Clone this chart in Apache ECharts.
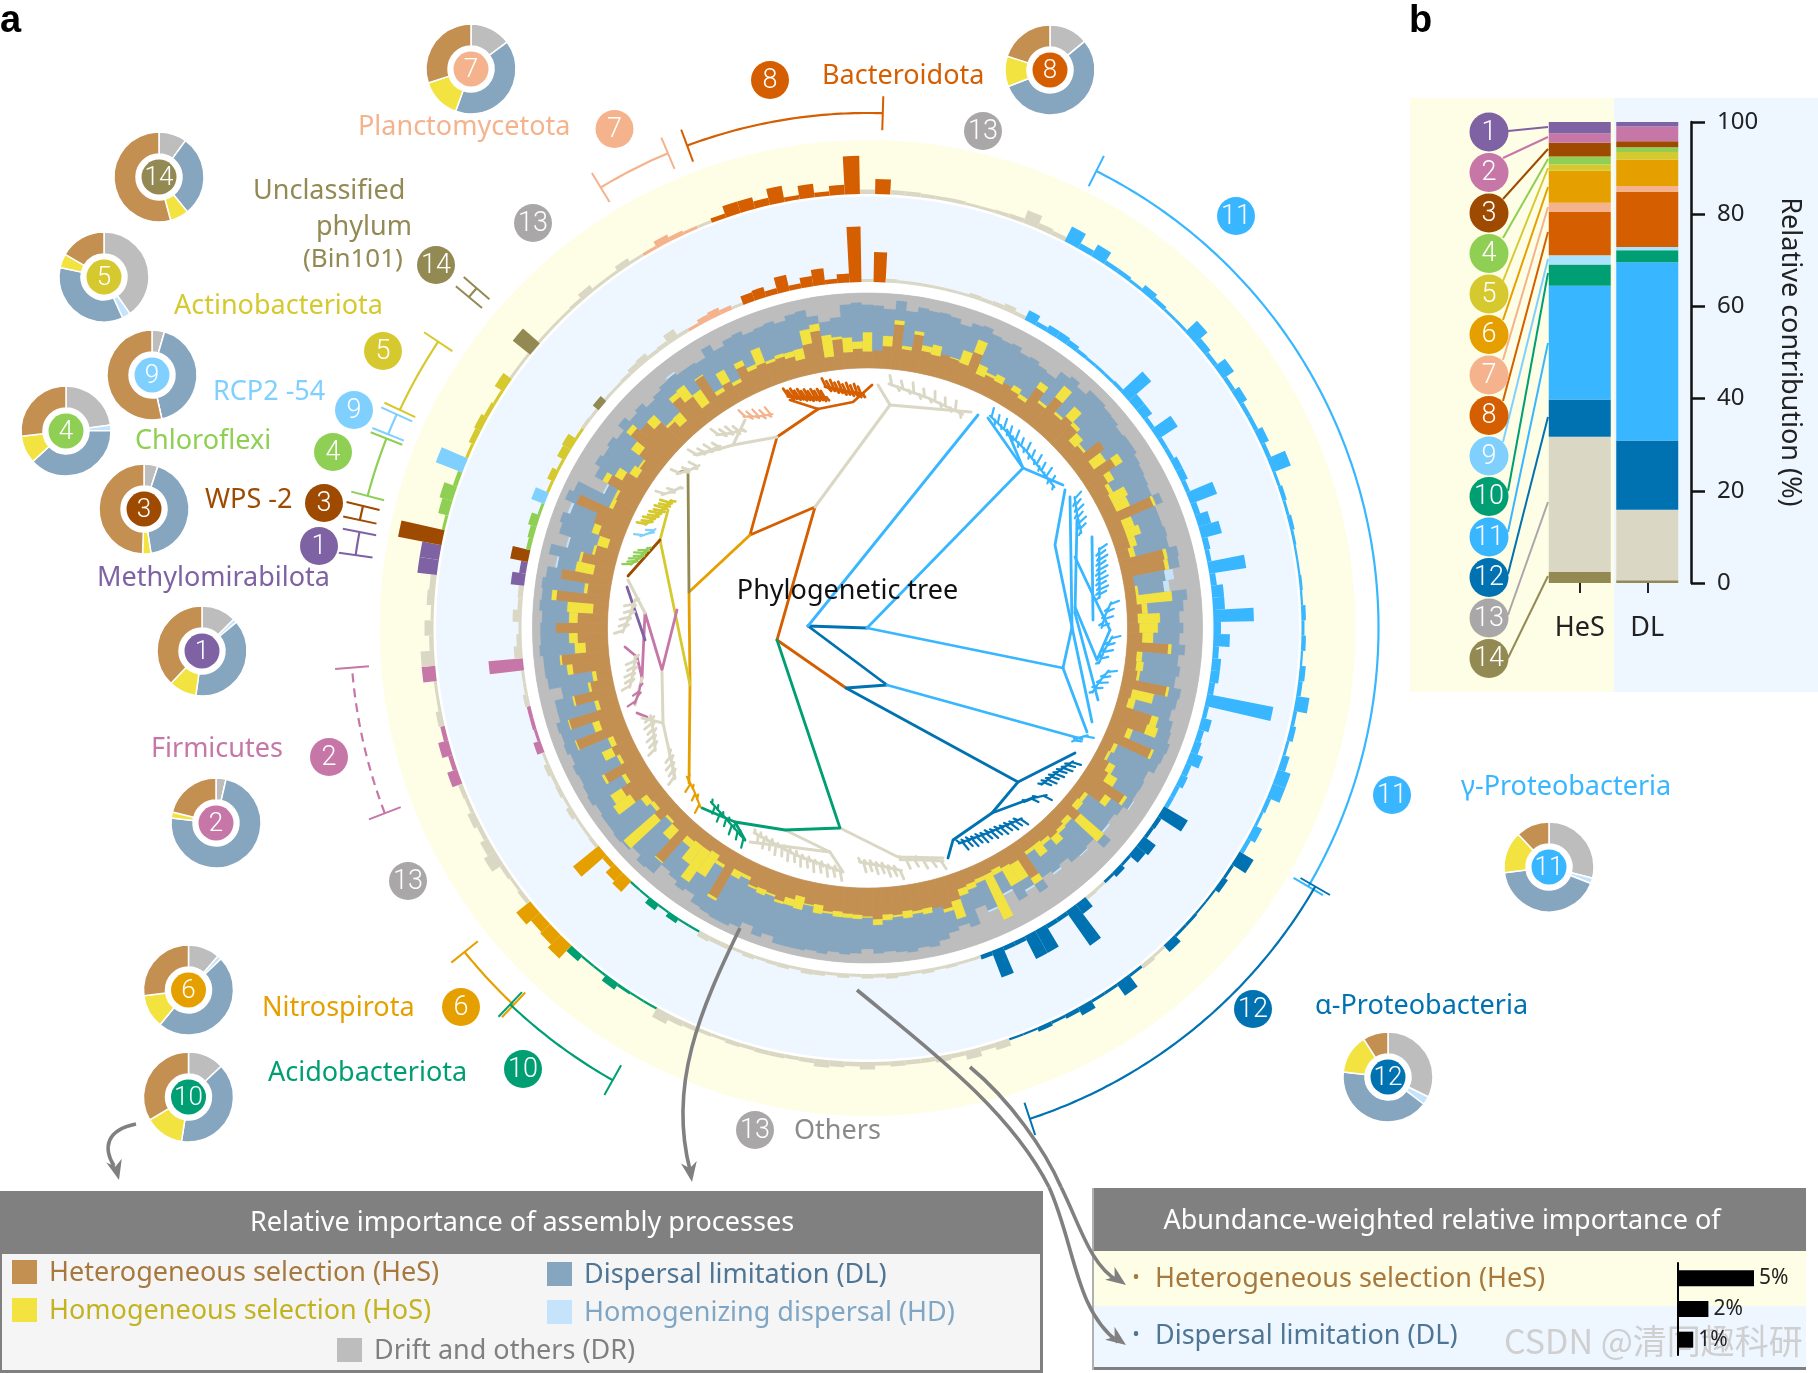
<!DOCTYPE html>
<html><head><meta charset="utf-8">
<style>html,body{margin:0;padding:0;background:#fff}#c{width:1818px;height:1373px}</style>
<script src="https://cdn.jsdelivr.net/npm/echarts@6/dist/echarts.min.js"></script>
</head><body><div id="c"></div>
<script>
// ===== DATA =====
const phylumColor={1:'#7E62A3',2:'#C676A7',3:'#9E4A00',4:'#8FCF54',5:'#D6C92F',6:'#E5A000',7:'#F4B38C',8:'#D55E00',9:'#7FD0FF',10:'#009E73',11:'#38B6FF',12:'#0072B2',13:'#DAD8C4',14:'#938953'};
const diskColor=Object.assign({},phylumColor,{13:'#A9A7A7'});
const procColor={he:'#C49052',ho:'#F2E340',dl:'#86A5BF',hd:'#C5E3FA',dr:'#BDBDBD'};
// leaf-wise relative importance (%), clockwise from 12 o'clock
const he=[22,24,30,60,28,50,30,28,32,30,28,48,22,26,24,28,24,20,45,30,
50,32,40,36,20,24,50,22,48,28,22,20,20,68,20,20,20,16,60,58,
14,14,14,20,14,16,20,55,14,15,18,60,16,14,50,48,25,65,16,14,
22,28,62,40,16,14,30,18,22,25,20,18,18,52,22,20,16,18,18,20,
22,35,42,38,35,36,34,38,36,42,38,36,35,33,35,28,30,22,28,35,
30,28,30,20,20,66,22,15,18,18,20,68,22,18,30,20,22,40,45,30,
55,24,30,22,70,32,70,25,55,30,20,50,63,30,40,69,40,20,70,30,
68,26,45,30,16,33,45,76,28,30,50,35,20,24,35,60,55,42,30,20,
50,40,20,55,22,30,22,40,30,33,30,32,28,22,40,55,18,40,22,26];
const ho=[26,0,14,6,5,5,8,14,0,2,18,18,14,4,10,0,8,6,10,4,
20,4,18,6,15,4,0,20,12,10,6,24,20,4,15,20,10,8,5,6,
0,4,48,8,30,25,15,5,8,10,4,4,30,10,10,16,8,4,6,4,
10,15,5,10,6,10,42,8,6,12,6,18,5,10,26,28,8,66,6,8,
10,25,5,0,8,4,10,3,8,8,2,6,6,8,3,12,2,18,10,4,
3,8,3,5,10,4,5,35,50,30,10,2,18,4,55,6,10,28,18,6,
4,5,15,8,2,10,2,6,3,4,6,8,3,15,12,0,12,35,7,5,
0,25,4,4,15,10,0,0,6,4,8,12,12,3,14,8,0,14,4,15,
8,20,22,2,6,18,5,8,6,22,4,5,8,15,20,10,30,4,20,10];
const dl=[37,60,36,26,47,32,47,44,52,46,38,20,44,48,46,46,44,46,15,48,
16,44,30,46,50,56,30,40,22,40,48,30,32,10,35,30,42,46,15,14,
42,34,20,48,26,34,35,18,48,49,48,16,32,50,20,18,53,15,60,56,
44,32,9,20,44,43,12,40,40,31,34,27,37,13,13,22,27,0,39,27,
44,10,28,44,45,46,46,47,42,38,42,46,49,47,54,50,60,52,54,45,
57,44,55,67,62,20,61,28,14,28,42,18,50,60,3,64,56,20,23,54,
29,57,43,54,16,44,16,51,24,36,60,30,22,47,38,21,36,37,13,57,
20,24,41,33,53,45,33,16,52,13,12,31,42,51,23,14,19,22,36,39,
20,19,34,19,46,38,49,34,48,23,46,45,42,47,26,11,18,26,44,52];
const hd=[0,0,0,0,0,0,0,0,0,0,0,0,0,0,0,0,0,0,0,0,
0,0,0,0,0,0,0,0,0,0,0,0,0,0,0,0,0,0,0,0,
12,8,0,0,0,0,0,0,0,0,0,0,0,0,0,0,0,0,0,0,
0,0,2,0,0,3,0,0,2,0,0,3,0,0,3,0,3,0,3,0,
0,0,0,0,0,0,0,0,0,0,0,0,0,0,0,0,0,0,0,0,
0,0,0,0,0,0,0,0,0,0,0,0,0,0,0,0,0,0,0,0,
0,0,0,0,0,0,0,0,0,0,0,0,0,0,0,0,0,0,0,0,
0,3,0,3,0,0,4,0,0,3,0,0,0,0,0,0,0,0,0,0,
0,3,0,0,0,0,0,0,0,0,0,0,0,0,0,0,0,0,0,0];
const dr=[15,16,20,8,20,13,15,14,16,22,16,14,20,22,20,26,24,28,30,18,
14,20,12,12,15,16,20,18,18,22,24,26,28,18,30,30,28,30,20,22,
32,40,18,24,30,25,30,22,30,26,30,20,22,26,20,18,14,16,18,26,
24,25,22,30,34,30,16,34,30,32,40,34,40,25,36,30,46,16,34,45,
24,30,25,18,12,14,10,12,14,12,18,12,10,12,8,10,8,8,8,16,
10,20,12,8,8,10,12,22,18,24,28,12,10,18,12,10,12,12,14,10,
12,14,12,16,12,14,12,18,18,30,14,12,12,8,10,10,12,8,10,8,
12,22,10,30,16,12,18,8,14,50,30,22,26,22,28,18,26,22,30,26,
22,18,24,24,26,14,24,18,16,22,20,18,22,16,14,24,34,30,14,12];
// abundance-weighted importance per leaf (%)
const dlAbund=[.2,2,.25,.2,.2,.2,.2,.2,.2,.3,.25,.3,.45,.25,.7,.3,.5,.5,.4,.25,
.2,.2,.2,.25,2,.7,.7,.3,1.6,.3,.3,.5,.5,.3,1.9,.4,.9,1.4,.4,.3,
2.5,.4,.8,.8,2.7,.5,1.1,.4,.6,.6,.4,4.5,.3,.7,.4,.5,.9,.4,.5,.3,
.3,1.85,.3,.25,1,.8,.2,.4,.2,.2,.25,.8,2.8,.3,.3,1.7,1.7,.3,.3,1.9,
.3,.2,.2,.25,.2,.3,.2,.25,.35,.25,.3,.2,.3,.2,.3,.35,.2,.3,.25,.2,
.3,.2,.3,.3,.4,.15,.15,.4,.15,.5,.15,.15,1,.8,.35,2.2,.25,.2,.2,.4,
.2,.3,.25,.4,.2,.5,.2,.25,.25,.35,.2,.2,2.3,.55,.35,.2,.6,.3,.35,.9,
.45,1.2,.3,.4,.6,.2,.95,.2,.5,.2,.6,.7,.2,.25,.2,.5,.2,.2,.25,.4,
.5,.25,.3,.7,.25,.2,.4,.5,.3,.2,.6,.7,.4,1.1,.35,.7,1.1,.3,.6,3.7];
const hesAbund=[.3,1,.3,.3,.25,.25,.25,.2,.2,.25,.3,.9,.4,.3,1.1,.4,.9,.3,.3,.2,
.5,.3,.2,.2,1.1,.5,.3,.9,.3,.6,.3,.3,.6,.3,1.3,.2,.3,.2,.3,.2,
.15,.15,.2,.15,.3,.2,.3,.15,.4,.3,.9,.25,.4,.2,.5,.9,.9,.3,.2,.6,
.3,1.1,.2,.4,.15,.15,.2,.2,.6,.2,.3,.2,1,.2,.2,.6,.3,.2,.3,.15,
.15,.5,.3,.6,.3,.4,.3,.3,.35,.25,.5,.3,.4,.5,.3,.25,.3,.3,.25,.3,
.2,.25,.3,.4,.7,.15,.15,.2,.5,.15,.15,.5,1.2,.9,.8,1.2,.3,.2,.3,.9,
.6,.3,.5,.25,.3,.7,.3,.7,.3,.4,.2,.2,.9,.9,.3,.6,.2,.5,.4,1.3,
1.3,2.95,.2,.7,.9,.3,1.9,.2,.4,.5,.3,.2,.7,.2,.2,1.5,.2,.2,.2,.25,
.5,.2,.2,.45,.2,.2,.5,.3,.2,.2,.3,.8,.8,.5,1.1,.3,.9,.3,.65,2.55];
// phylum runs along the ring: [phylum, first leaf, last leaf]
const phylumRuns=[[8,170,179],[8,1,1],[11,14,60],[12,61,68],[12,71,80],[10,105,111],[6,112,115],[2,125,128],[2,132,132],[1,139,140],[3,141,141],[4,142,145],[9,146,146],[5,147,152],[14,155,155],[7,165,168]];
// panel b, bottom→top order is reversed at plotting time
const phylumIds=[1,2,3,4,5,6,7,8,9,10,11,12,13,14];
const barHeS=[2.5,2,3,1.7,1.4,6.9,2,9.4,2,4.6,24.7,8.1,29.3,2.4];
const barDL=[1,3.2,1.3,1,1.7,5.7,1.3,11.9,.7,2.6,38.7,15,15.3,.6];
const barCats=['HeS','DL'];
// per-phylum donuts: dr, hd, dl, ho, he (clockwise from top)
const donutIds=[7,8,14,5,9,4,3,1,2,6,10,11,12];
const donutDR=[14.8,14,10,40,4.5,23,5,12.5,3.6,11.4,13,29,32];
const donutHD=[0,0,0,3,0,2,0,1.4,0,1.4,0,2,3];
const donutDL=[40.7,55,29,35,42,38.5,42.5,38.3,73,48,39.5,42,41];
const donutHO=[14.4,11,6.7,5,0,10,3,10,2.2,12,14,15,14];
const donutHE=[30,20,54,16.5,53.5,27,49.5,37.8,21,27,33.5,12,9];
const miniCats=['a','b','c'];const miniVals=[5,2,1];
// brackets: [phylum, startAngle, endAngle, radius, dashed]
const brackets=[[8,339.5,361.7,515,0],[7,328.8,337.2,515,0],[11,26.6,120.4,511,0],[12,120,161.7,517,0],[6,223.2,231.2,517,0],[10,209.4,223.5,519,0],[2,249,265.6,517,1],[1,278.1,280.7,517,0],[3,282,283.6,519,0],[4,284.8,291.5,517,0],[9,292,294.4,517,0],[5,295,303.7,516,0],[14,309.7,311,518,0]];
// tree branches (unrooted layout units)
const treeBranches=[
[8,[[777,640],[815,507],[750,535],[777,437],[818,409]]],[8,[[777,640],[846,688]]],[8,[[818,409],[853,402],[872,385]]],[8,[[818,409],[790,400]]],
[6,[[750,535],[689,592],[690,685],[689,783]]],[14,[[689,592],[688,470],[680,472]]],[5,[[690,685],[660,540],[668,510]]],[3,[[660,540],[628,576]]],
[2,[[677,610],[662,670],[645,613],[642,678]]],[2,[[625,647],[637,657],[642,678]]],[2,[[637,713],[647,717]]],[1,[[627,587],[645,640]]],
[13,[[815,507],[890,405]]],[13,[[777,437],[733,445],[697,455]]],[13,[[733,445],[745,420]]],[13,[[628,580],[645,613]]],[13,[[662,672],[663,723],[675,778]]],[13,[[663,723],[642,718]]],[13,[[642,678],[635,705]]],
[13,[[840,828],[898,857],[943,858]]],[13,[[785,830],[830,852],[843,872]]],[13,[[830,852],[750,842]]],[13,[[890,405],[971,412]]],[13,[[890,405],[878,385]]],
[10,[[777,640],[840,828],[785,830],[735,822],[702,808]]],[10,[[735,822],[745,840]]],
[12,[[808,626],[867,628]]],[12,[[808,626],[887,685],[846,688],[1018,782],[1075,753]]],[12,[[1018,782],[992,813],[953,840],[948,858]]],[12,[[992,813],[1035,797]]],
[11,[[808,626],[978,415]]],[11,[[867,628],[1023,468]]],[11,[[867,628],[1063,668]]],[11,[[887,685],[1082,739]]],
[11,[[1063,668],[1087,732]]],[11,[[1063,668],[1072,627],[1055,545],[1065,490]]],[11,[[1072,627],[1070,497]]],[11,[[1072,627],[1092,722]]],[11,[[1075,613],[1098,700]]],[11,[[1075,607],[1097,660],[1110,630]]],[11,[[1075,557],[1092,593],[1110,630]]],[11,[[1077,520],[1075,613]]],[11,[[1092,537],[1093,620]]],[11,[[1023,468],[988,418]]],[11,[[1023,468],[1063,485]]],[11,[[1023,468],[1007,430]]]
];
// terminal clades: [phylum, startAngle, endAngle, tips]
const treeClades=[[8,341,350,24],[8,350,359,20],[13,5,24,14],[7,329.6,336,9],[13,322,328,8],[13,315,321,7],[13,309,314,5],[13,303,307,4],[5,295,303,18],[9,292,295,3],[4,285,290,12],[13,269,277,10],[13,256,263,10],[2,252,256,4],[13,240,248,11],[13,232,238,8],[6,223,230.5,6],[10,210,222,12],[13,186,209,28],[13,172,182,14],[13,162,172,10],[12,141,157,26],[12,123,132,16],[12,133,138,4],[11,116,119,3],[11,100,106,8],[11,92,98.7,8],[11,71,82.6,20],[11,57.7,66,12],[11,30,53,24],[11,84,90,7]];

// ===== LAYOUT =====
const CX=867.5,CY=628,F='"Noto Sans"',D='Roboto',FS=27;
const leafCats=he.map((_,i)=>i);
const leafPhylum=he.map(()=>13);
phylumRuns.forEach(r=>{for(let i=r[1];i<=r[2];i++)leafPhylum[i]=r[0];});
const series=[];
// polars
const polar=[{center:[CX,CY],radius:[260,335]},{center:[CX,CY],radius:[346,431]},{center:[CX,CY],radius:[434,488]},{center:[CX,CY],radius:[0,600]}];
const mkAngle=(i)=>({polarIndex:i,type:'category',data:leafCats,startAngle:91,clockwise:true,show:false});
const angleAxis=[mkAngle(0),mkAngle(1),mkAngle(2),{polarIndex:3,type:'value',min:0,max:360,startAngle:90,clockwise:true,show:false}];
const radiusAxis=[{polarIndex:0,min:0,max:100,show:false},{polarIndex:1,min:0,max:5.67,show:false},{polarIndex:2,min:0,max:3.6,show:false},{polarIndex:3,min:0,max:600,show:false}];
[['HeS',he,'he',1],['HoS',ho,'ho',0],['DL',dl,'dl',1],['HD',hd,'hd',0],['DR',dr,'dr',1]].forEach(s=>{
  const c=procColor[s[2]];
  series.push({type:'bar',name:s[0],coordinateSystem:'polar',polarIndex:0,stack:'ring',data:s[1],barCategoryGap:'0%',itemStyle:s[3]?{color:c,borderColor:c,borderWidth:.6}:{color:c},silent:true,z:3});
});
series.push({type:'bar',name:'DL abundance',coordinateSystem:'polar',polarIndex:1,barCategoryGap:'0%',silent:true,z:3,data:dlAbund.map((v,i)=>({value:v,itemStyle:{color:phylumColor[leafPhylum[i]]}}))});
series.push({type:'bar',name:'HeS abundance',coordinateSystem:'polar',polarIndex:2,barCategoryGap:'0%',silent:true,z:3,data:hesAbund.map((v,i)=>({value:v,itemStyle:{color:phylumColor[leafPhylum[i]]}}))});
// brackets
series.push({type:'custom',coordinateSystem:'polar',polarIndex:3,clip:false,silent:true,z:4,data:brackets,
 renderItem(params,api){
  const ph=api.value(0),a0=api.value(1),a1=api.value(2),r=api.value(3),dash=api.value(4);
  const col=phylumColor[ph];const pts=[];
  for(let a=a0;a<a1;a+=0.5)pts.push(api.coord([r,a]));pts.push(api.coord([r,a1]));
  const st={stroke:col,lineWidth:2.2,fill:null};
  const tick=a=>{const p=api.coord([r-17,a]),q=api.coord([r+17,a]);return{type:'line',shape:{x1:p[0],y1:p[1],x2:q[0],y2:q[1]},style:{stroke:col,lineWidth:2}};};
  return{type:'group',children:[{type:'polyline',shape:{points:pts},style:dash?Object.assign({lineDash:[9,6]},st):st},tick(a0),tick(a1)]};
 }});
// donuts
function donutCenter(id){return({7:[471,69],8:[1050,70],14:[159,177],5:[104,277],9:[152,375],4:[66,431],3:[144,509],1:[202,651],2:[216,823],6:[188.5,990],10:[188.5,1097],11:[1549,867],12:[1388,1077]})[id];}
donutIds.forEach((id,k)=>{
 series.push({type:'pie',name:'donut'+id,center:donutCenter(id),radius:[23,45],startAngle:90,clockwise:true,silent:true,label:{show:false},labelLine:{show:false},
  itemStyle:{borderColor:'#fff',borderWidth:1.5},z:3,
  data:[{name:'DR',value:donutDR[k],itemStyle:{color:procColor.dr}},{name:'HD',value:donutHD[k],itemStyle:{color:procColor.hd}},{name:'DL',value:donutDL[k],itemStyle:{color:procColor.dl}},{name:'HoS',value:donutHO[k],itemStyle:{color:procColor.ho}},{name:'HeS',value:donutHE[k],itemStyle:{color:procColor.he}}]});
});
// tree
const pol=(a,r)=>{const t=a*Math.PI/180;return[CX+r*Math.sin(t),CY-r*Math.cos(t)];};
const treeStyle=ph=>({color:phylumColor[ph],width:ph===13?3:2.8,opacity:1,curveness:0,cap:'round',join:'round'});
const treeData=treeBranches.map(b=>({coords:b[1],lineStyle:treeStyle(b[0])}));
const tipLen=[9,5,7,4];
treeClades.forEach(c=>{
 const[ph,a0,a1,n]=c;const st=Object.assign(treeStyle(ph),{width:ph===8||ph===5||ph===13?2.8:2.2});
 treeData.push({coords:[pol(a0,245),pol((a0+a1)/2,238),pol(a1,234)],lineStyle:st});
 for(let k=0;k<n;k++){const u=(k+.5)/n,a=a0+(a1-a0)*u,rs=u<.5?245-14*u:238-8*(u-.5);
  const up=k%2===0,len=tipLen[k%4];
  treeData.push({coords:[pol(a,rs),pol(a+(up?-.6:.6),rs+(up?len:-len*.8))],lineStyle:st});}
});
series.push({type:'lines',coordinateSystem:'cartesian2d',xAxisIndex:0,yAxisIndex:0,polyline:true,silent:true,z:4,data:treeData});
// panel b
phylumIds.slice().reverse().forEach(ph=>{const k=ph-1;
 series.push({type:'bar',name:'p'+ph,xAxisIndex:1,yAxisIndex:1,stack:'b',barWidth:62,silent:true,z:3,itemStyle:{color:ph===9?'#A9E3FF':phylumColor[ph]},data:[barHeS[k],barDL[k]]});
});
// panel b leaders
const leaderL=[[1508,131],[1503,158],[1503,199],[1503,238],[1503,281],[1503,320],[1503,360],[1503,401],[1503,442],[1508,491],[1508,532],[1508,574],[1508,615],[1508,658]];
const leaderR=[127,137,149,159,168,187,207,232,259,273,343,417,502,576];
series.push({type:'lines',coordinateSystem:'cartesian2d',xAxisIndex:0,yAxisIndex:0,polyline:true,silent:true,z:5,
 data:phylumIds.map((ph,k)=>({coords:[leaderL[k],[1548,leaderR[k]]],lineStyle:{color:ph===13?'#A9A7A7':phylumColor[ph],width:2,opacity:1,curveness:0}}))});
// mini legend bars
series.push({type:'bar',xAxisIndex:2,yAxisIndex:2,data:miniVals,barWidth:16,silent:true,z:26,itemStyle:{color:'#000'},
 label:{show:true,position:'right',distance:5,formatter:'{c}%',color:'#222',fontFamily:F,fontSize:21}});

// ===== GRAPHICS =====
const G=[];
const ring=(r0,r,fill)=>G.push({type:'ring',z:1,silent:true,shape:{cx:CX,cy:CY,r0,r},style:{fill}});
ring(434,488,'#FEFEE6');ring(346,431.5,'#EEF6FF');ring(260,335,procColor.dr);
const rect=(x,y,w,h,fill,z)=>G.push({type:'rect',z:z||1,silent:true,shape:{x,y,width:w,height:h},style:{fill}});
rect(1410,98,204,594,'#FEFEE6');rect(1614,98,204,594,'#EEF6FF');
const T=(text,x,y,fill,size,opt)=>G.push(Object.assign({type:'text',z:20,silent:true,x,y,style:{text,fill,font:(opt&&opt.w||'400')+' '+size+'px '+(opt&&opt.f||F),textAlign:opt&&opt.a||'left',textVerticalAlign:'middle'}},opt&&opt.rot?{rotation:opt.rot}:{}));
T('a',0,22,'#000',38,{w:'800',f:'"Liberation Sans"'});T('b',1409,22,'#000',38,{w:'800',f:'"Liberation Sans"'});
const labels=[['Planctomycetota',358,127,7],['Unclassified',253,191,14],['phylum',316,227,14],['(Bin101)',303,260,14,26],['Actinobacteriota',174,306,5],['RCP2 -54',213,392,9],['Chloroflexi',135,441,4],['WPS -2',205,500,3],['Methylomirabilota',97,578,1],['Firmicutes',151,749,2],['Nitrospirota',262,1008,6],['Acidobacteriota',268,1073,10],['Bacteroidota',822,76,8],['γ-Proteobacteria',1461,787,11],['α-Proteobacteria',1315,1006,12]];
labels.forEach(l=>T(l[0],l[1],l[2],phylumColor[l[3]],l[4]||FS));
T('Others',794,1131,'#8A8A8A',FS);
T('Phylogenetic tree',847.5,591,'#111',FS,{a:'center'});
const disk=(id,x,y,r,size)=>{G.push({type:'circle',z:19,silent:true,shape:{cx:x,cy:y,r},style:{fill:diskColor[id]}});T(String(id),x,y+1,'#fff',size||26,{a:'center',f:D,w:'300'});};
donutIds.forEach(id=>{const c=donutCenter(id);disk(id,c[0],c[1],17.5,26);});
[[8,770,80],[7,614.5,129],[13,983,131],[13,533,223],[14,436,265],[5,383,351],[9,354,410],[4,333,452],[3,324,503],[1,319,546],[2,329,757],[13,408,881],[6,461,1007],[10,523,1069],[11,1236,216],[11,1392,795],[12,1253,1009],[13,755,1130]].forEach(d=>disk(d[0],d[1],d[2],19,27));
phylumIds.forEach((id,k)=>disk(id,1489,132+k*40.5,19.5,27));
T('Relative contribution (%)',1790,352,'#222',FS,{a:'center',rot:-Math.PI/2});
// legend boxes
rect(0,1191,1043,182,'#F5F5F5',5);rect(0,1191,1043,63,'#808080',6);rect(1040,1191,3,182,'#808080',6);rect(0,1370,1043,3,'#808080',6);rect(0,1191,2,182,'#808080',6);
T('Relative importance of assembly processes',522,1223,'#fff',FS,{a:'center'});
const leg=(x,y,key,txt,col)=>{rect(x,y-12,25,24,procColor[key],7);T(txt,x+37,y+1,col,FS);};
leg(12,1272,'he','Heterogeneous selection (HeS)','#A8793F');
leg(12,1310,'ho','Homogeneous selection (HoS)','#C4B320');
leg(547,1274,'dl','Dispersal limitation (DL)','#4F7595');
leg(547,1312,'hd','Homogenizing dispersal (HD)','#7FA6C4');
leg(337,1350,'dr','Drift and others (DR)','#808080');
rect(1092,1188,714,179,'#FEFEE6',5);rect(1092,1306,714,61,'#EEF6FF',5);rect(1092,1188,714,63,'#808080',6);rect(1092,1367,714,3,'#808080',6);rect(1092,1188,2,182,'#B0B0B0',6);
T('Abundance-weighted relative importance of',1442,1221,'#fff',FS,{a:'center'});
T('•',1136,1278,'#A8793F',20,{a:'center'});T('Heterogeneous selection (HeS)',1155,1279,'#A8793F',FS);
T('•',1136,1335,'#4F7595',20,{a:'center'});T('Dispersal limitation (DL)',1155,1336,'#4F7595',FS);
T('CSDN @清同趣科研',1504,1341,'#CFCFCF',34,{f:'"Noto Sans CJK SC"'});
// arrows: [x0,y0,cx1,cy1,cx2,cy2,x1,y1]
const curve=a=>G.push({type:'bezierCurve',z:21,silent:true,shape:{x1:a[0],y1:a[1],cpx1:a[2],cpy1:a[3],cpx2:a[4],cpy2:a[5],x2:a[6],y2:a[7]},style:{stroke:'#808080',lineWidth:3.6,fill:null}});
const head=(x,y,ang)=>{const l=20,w=8,c=Math.cos(ang),s=Math.sin(ang);
 G.push({type:'polygon',z:21,silent:true,shape:{points:[[x,y],[x-l*c-w*s,y-l*s+w*c],[x-l*.7*c,y-l*.7*s],[x-l*c+w*s,y-l*s-w*c]]},style:{fill:'#808080'}});};
curve([136,1124,106,1130,103,1148,114,1166]);head(119,1180,Math.PI*.42);
curve([740,928,700,1010,668,1085,690,1170]);head(692,1182,Math.PI*.45);
curve([857,990,930,1050,1010,1110,1049,1187]);curve([1049,1187,1075,1245,1075,1310,1118,1342]);head(1126,1345,Math.PI*.2);
curve([970,1067,1010,1100,1045,1150,1061,1187]);curve([1061,1187,1080,1225,1090,1265,1118,1281]);head(1126,1285,Math.PI*.2);

// ===== OPTION =====
const chart=echarts.init(document.getElementById('c'),null,{renderer:'canvas'});
chart.setOption({
 animation:false,backgroundColor:'#fff',textStyle:{fontFamily:F},
 polar,angleAxis,radiusAxis,
 grid:[{left:0,top:0,width:1818,height:1373},{left:1546,top:122,width:135,height:461},{left:1678,top:1263,width:76,height:92}],
 xAxis:[{gridIndex:0,type:'value',min:0,max:1818,show:false},
  {gridIndex:1,z:30,type:'category',data:barCats,offset:5,axisLine:{show:false},axisTick:{show:true,alignWithLabel:true,length:10,lineStyle:{color:'#222',width:2}},axisLabel:{color:'#222',fontFamily:F,fontSize:27,margin:27}},
  {gridIndex:2,type:'value',min:0,max:5,show:false}],
 yAxis:[{gridIndex:0,type:'value',min:0,max:1373,inverse:true,show:false},
  {gridIndex:1,z:30,type:'value',min:0,max:100,interval:20,position:'right',offset:10,splitLine:{show:false},axisLine:{show:true,lineStyle:{color:'#111',width:2.5}},axisTick:{show:true,length:14,lineStyle:{color:'#111',width:2.5}},axisLabel:{color:'#222',fontFamily:F,fontSize:24,margin:26}},
  {gridIndex:2,z:30,type:'category',data:miniCats,inverse:true,axisLine:{show:true,onZero:false,lineStyle:{color:'#000',width:2}},axisTick:{show:false},axisLabel:{show:false}}],
 graphic:{elements:G},
 series
});
</script></body></html>
